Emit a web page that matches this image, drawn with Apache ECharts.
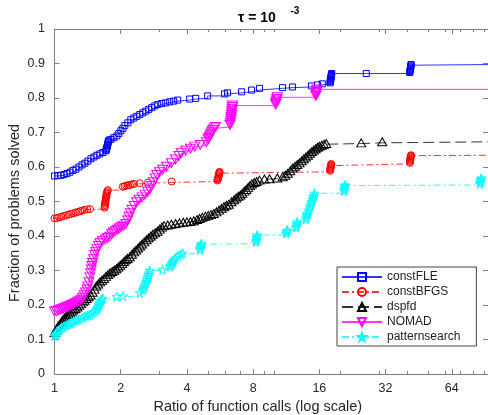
<!DOCTYPE html>
<html>
<head>
<meta charset="utf-8">
<title>Performance profile</title>
<script src="https://cdn.jsdelivr.net/npm/echarts@6/dist/echarts.min.js"></script>
<style>html,body{margin:0;padding:0;background:#fff;}</style>
</head>
<body>
<div id="main" style="width:488px;height:415px;"></div>
<script type="text/javascript">
// names, ticks and the profile points [ratio, fraction solved]
var seriesNames = ['constFLE', 'constBFGS', 'dspfd', 'NOMAD', 'patternsearch'];
var xLabelTicks = [1, 2, 4, 8, 16, 32, 64];
var xMinorTicks = [3, 5, 6, 7, 9, 10, 20, 30, 40, 50, 60, 70, 80, 90];
var xMax = 93.5;

var constFLE = [[1.0,.574],[1.037,.575],[1.07,.576],[1.104,.578],[1.139,.581],[1.176,.585],[1.213,.59],[1.252,.594],
  [1.292,.6],[1.333,.606],[1.375,.611],[1.419,.617],[1.464,.624],[1.511,.629],[1.559,.634],[1.608,.638],[1.66,.642],
  [1.712,.647],[1.72,.65],[1.727,.654],[1.733,.658],[1.74,.662],[1.745,.666],[1.75,.67],[1.758,.674],[1.767,.678],
  [1.804,.68],[1.862,.685],[1.921,.69],[1.961,.697],[2.003,.705],[2.045,.712],[2.088,.72],[2.155,.728],[2.223,.737],
  [2.294,.742],[2.367,.747],[2.442,.752],[2.52,.757],[2.6,.762],[2.683,.767],[2.768,.772],[2.856,.777],[2.947,.781],
  [3.073,.784],[3.204,.786],[3.341,.789],[3.483,.791],[3.632,.794],[4.117,.797],[4.383,.799],[4.97,.806],[5.93,.812],
  [6.12,.815],[7.09,.818],[7.87,.823],[8.55,.828],[10.88,.83],[12.07,.832],[14.72,.835],[15.7,.838],[16.5,.841],
  [17.9,.844],[17.93,.847],[17.96,.85],[18.0,.853],[18.03,.856],[18.06,.859],[18.1,.862],[18.13,.865],[18.16,.868],
  [18.2,.871],[26.15,.871],[41.2,.874],[41.3,.877],[41.4,.88],[41.5,.883],[41.55,.886],[41.6,.889],[41.7,.892],
  [41.75,.895],[41.8,.897],[93.5,.897]];

var constBFGS = [[1.0,.451],[1.025,.452],[1.05,.454],[1.075,.456],[1.1,.458],[1.13,.46],[1.16,.462],[1.19,.464],
  [1.22,.466],[1.25,.468],[1.28,.47],[1.31,.472],[1.34,.474],[1.37,.476],[1.41,.477],[1.45,.478],[1.69,.482],
  [1.693,.486],[1.696,.49],[1.70,.494],[1.703,.498],[1.706,.502],[1.71,.506],[1.714,.51],[1.718,.514],[1.722,.518],
  [1.726,.522],[1.73,.526],[1.738,.53],[1.75,.533],[2.045,.543],[2.08,.544],[2.12,.546],[2.16,.547],[2.2,.548],
  [2.25,.55],[2.3,.551],[2.44,.553],[2.66,.555],[3.41,.558],[5.5,.561],[5.52,.564],[5.54,.567],[5.55,.57],
  [5.57,.573],[5.58,.576],[5.6,.579],[5.61,.582],[5.62,.584],[5.63,.586],[17.9,.589],[17.93,.592],[17.96,.595],
  [18.0,.598],[18.03,.601],[18.06,.604],[18.1,.607],[18.14,.609],[41.3,.612],[41.35,.615],[41.4,.618],[41.45,.621],
  [41.5,.624],[41.55,.627],[41.6,.63],[41.7,.633],[41.8,.634],[93.5,.634]];

var dspfd = [[1.0,.12],[1.01,.125],[1.02,.13],[1.035,.136],[1.05,.142],[1.065,.148],[1.08,.153],[1.095,.158],
  [1.11,.162],[1.125,.165],[1.14,.168],[1.16,.173],[1.18,.177],[1.2,.182],[1.22,.186],[1.245,.19],[1.27,.194],
  [1.295,.199],[1.32,.204],[1.345,.209],[1.37,.214],[1.4,.219],[1.43,.224],[1.46,.229],[1.49,.237],[1.52,.246],
  [1.55,.255],[1.58,.261],[1.61,.267],[1.645,.272],[1.68,.277],[1.715,.283],[1.75,.288],[1.79,.293],[1.83,.297],
  [1.87,.301],[1.91,.305],[1.95,.31],[1.99,.315],[2.03,.32],[2.07,.326],[2.11,.331],[2.15,.335],[2.2,.34],
  [2.25,.347],[2.3,.354],[2.35,.359],[2.4,.365],[2.45,.371],[2.5,.377],[2.56,.383],[2.62,.389],[2.68,.395],
  [2.74,.4],[2.8,.405],[2.87,.409],[2.94,.414],[3.01,.42],[3.08,.426],[3.15,.43],[3.27,.432],[3.4,.434],
  [3.55,.436],[3.7,.438],[3.85,.44],[4.0,.441],[4.15,.442],[4.3,.444],[4.45,.448],[4.57,.451],[4.7,.454],
  [4.85,.457],[5.0,.459],[5.15,.462],[5.3,.465],[5.45,.47],[5.6,.475],[5.75,.48],[5.9,.485],[6.05,.489],
  [6.2,.492],[6.38,.499],[6.55,.505],[6.7,.51],[6.85,.515],[7.0,.519],[7.15,.524],[7.3,.53],[7.45,.535],
  [7.6,.541],[7.75,.546],[7.9,.551],[8.1,.555],[8.3,.558],[8.55,.562],[9.0,.565],[9.5,.566],[10.3,.568],
  [10.9,.572],[11.2,.576],[11.5,.582],[11.8,.589],[12.1,.597],[12.4,.602],[12.7,.607],[13.0,.612],[13.3,.618],
  [13.6,.624],[13.9,.629],[14.2,.634],[14.5,.64],[14.8,.645],[15.1,.649],[15.4,.653],[15.7,.657],[16.0,.66],
  [16.4,.663],[16.8,.666],[17.2,.668],[24.8,.67],[30.9,.673],[93.5,.673]];

var NOMAD = [[1.0,.181],[1.02,.182],[1.04,.184],[1.06,.186],[1.08,.188],[1.1,.19],[1.12,.192],[1.14,.194],
  [1.16,.196],[1.18,.198],[1.2,.2],[1.22,.202],[1.245,.205],[1.27,.208],[1.295,.211],[1.32,.215],[1.345,.221],
  [1.365,.228],[1.385,.236],[1.405,.245],[1.42,.254],[1.435,.266],[1.449,.28],[1.46,.292],[1.47,.303],[1.48,.313],
  [1.49,.322],[1.505,.333],[1.52,.345],[1.54,.354],[1.56,.362],[1.585,.371],[1.61,.379],[1.65,.385],[1.7,.39],
  [1.74,.394],[1.785,.398],[1.82,.405],[1.85,.41],[1.89,.414],[1.93,.418],[1.97,.422],[2.01,.426],[2.06,.43],
  [2.11,.435],[2.15,.445],[2.18,.456],[2.21,.466],[2.25,.476],[2.3,.487],[2.36,.498],[2.42,.505],[2.5,.512],
  [2.58,.52],[2.65,.528],[2.71,.535],[2.76,.545],[2.82,.556],[2.87,.567],[2.92,.577],[3.0,.585],[3.1,.592],
  [3.23,.601],[3.4,.611],[3.55,.622],[3.68,.632],[3.77,.64],[3.95,.647],[4.15,.653],[4.34,.659],[4.6,.664],
  [4.9,.672],[5.0,.68],[5.03,.684],[5.07,.688],[5.11,.692],[5.15,.697],[5.2,.702],[5.25,.707],[5.32,.712],
  [5.4,.716],[6.28,.722],[6.3,.727],[6.32,.733],[6.34,.739],[6.36,.745],[6.38,.751],[6.39,.757],[6.41,.763],
  [6.42,.769],[6.44,.774],[6.45,.778],[10.13,.781],[10.16,.785],[10.2,.789],[10.23,.793],[10.26,.797],[10.3,.802],
  [15.43,.806],[15.47,.81],[15.5,.814],[15.53,.818],[15.56,.822],[15.6,.825],[93.5,.825]];

var patternsearch = [[1.0,.11],[1.01,.113],[1.02,.117],[1.035,.122],[1.05,.127],[1.065,.131],[1.08,.134],
  [1.1,.137],[1.12,.14],[1.14,.142],[1.16,.145],[1.18,.147],[1.2,.15],[1.225,.153],[1.25,.156],[1.275,.158],
  [1.3,.16],[1.33,.163],[1.36,.166],[1.39,.168],[1.42,.17],[1.45,.172],[1.48,.176],[1.51,.18],[1.54,.184],
  [1.56,.188],[1.57,.192],[1.58,.196],[1.59,.2],[1.6,.204],[1.61,.208],[1.625,.212],[1.64,.216],[1.66,.219],
  [1.92,.224],[2.05,.226],[2.44,.235],[2.52,.243],[2.54,.248],[2.56,.253],[2.58,.258],[2.6,.263],[2.615,.268],
  [2.63,.273],[2.645,.278],[2.66,.283],[2.675,.288],[2.69,.293],[2.71,.3],[3.1,.302],[3.34,.311],[3.37,.315],
  [3.4,.319],[3.43,.323],[3.46,.327],[3.5,.331],[3.55,.336],[3.65,.342],[3.75,.347],[3.83,.35],[4.57,.36],
  [4.59,.364],[4.61,.368],[4.63,.372],[4.65,.376],[4.66,.378],[8.25,.383],[8.27,.387],[8.29,.391],[8.31,.395],
  [8.33,.399],[8.35,.403],[11.3,.407],[11.35,.411],[11.4,.415],[11.45,.417],[12.55,.424],[12.58,.428],
  [12.61,.432],[12.64,.436],[12.7,.441],[13.9,.448],[13.95,.453],[14.0,.458],[14.05,.462],[14.1,.466],
  [14.25,.472],[14.4,.478],[14.5,.484],[14.6,.49],[14.7,.495],[14.8,.5],[14.9,.506],[14.95,.51],[15.05,.515],
  [15.1,.518],[15.2,.524],[20.7,.53],[20.75,.534],[20.8,.538],[20.85,.542],[20.9,.546],[20.95,.548],[85.8,.551],
  [86.1,.555],[86.4,.559],[86.7,.563],[87.0,.566],[87.2,.568],[93.5,.568]];

var font = 'Liberation Sans, Arial, Helvetica, sans-serif';
var axisColor = '#808080';
var starPath = 'path://M50,0 L61.2,34.5 L97.6,34.5 L68.2,55.9 L79.4,90.5 L50,69.1 L20.6,90.5 L31.8,55.9 L2.4,34.5 L38.8,34.5 Z';
var downTriangle = 'path://M0,0 L10,0 L5,10 Z';

function profile(name, data, color, symbol, size, dash) {
    // the last point only carries the line to the right edge
    var pts = data.map(function (p, i) {
        return i === data.length - 1 ? { value: p, symbol: 'none' } : p;
    });
    return {
        name: name,
        type: 'line',
        step: 'end',
        data: pts,
        symbol: symbol,
        symbolSize: size,
        lineStyle: { color: color, width: 1, type: dash, opacity: 0.8 },
        itemStyle: { color: 'transparent', borderColor: color, borderWidth: 1 },
        emphasis: { disabled: true }
    };
}

function logAxis(pos, ticks, len, withLine, withLabel) {
    return {
        type: 'log', logBase: 2, min: 1, max: xMax, position: pos,
        axisLine: { show: withLine, onZero: false, lineStyle: { color: axisColor } },
        axisTick: { show: true, inside: true, length: len, customValues: ticks, lineStyle: { color: axisColor } },
        axisLabel: { show: withLabel, customValues: ticks, fontSize: 12.5, color: '#262626', margin: 8, fontFamily: font },
        splitLine: { show: false }
    };
}

var myChart = echarts.init(document.getElementById('main'));

var option = {
    animation: false,
    backgroundColor: '#fff',
    grid: { left: 54.5, right: -1, top: 29, bottom: 41 },
    xAxis: [
        logAxis('bottom', xLabelTicks, 5, true, true),
        logAxis('bottom', xMinorTicks, 3, false, false),
        logAxis('top', xLabelTicks, 5, true, false),
        logAxis('top', xMinorTicks, 3, false, false)
    ],
    yAxis: [
        {
            type: 'value', min: 0, max: 1, interval: 0.1, position: 'left',
            axisLine: { show: true, lineStyle: { color: axisColor } },
            axisTick: { show: true, inside: true, length: 5, lineStyle: { color: axisColor } },
            axisLabel: { fontSize: 12.5, color: '#262626', margin: 9.5, fontFamily: font },
            splitLine: { show: false }
        },
        {
            type: 'value', min: 0, max: 1, interval: 0.1, position: 'right',
            axisLine: { show: true, lineStyle: { color: axisColor } },
            axisTick: { show: true, inside: true, length: 5, lineStyle: { color: axisColor } },
            axisLabel: { show: false },
            splitLine: { show: false }
        }
    ],
    legend: {
        orient: 'vertical', left: 337, top: 267,
        padding: [4, 16, 3, 4], itemGap: 3, itemWidth: 40, itemHeight: 10,
        backgroundColor: '#fff', borderColor: '#444', borderWidth: 1,
        textStyle: { fontSize: 12, color: '#222', fontFamily: font },
        data: seriesNames
    },
    graphic: [
        { type: 'text', x: 238, y: 18, style: { text: 'τ = 10', font: 'bold 14px ' + font, fill: '#000', align: 'left', verticalAlign: 'middle' } },
        { type: 'text', x: 290.5, y: 11.5, style: { text: '-3', font: 'bold 10px ' + font, fill: '#000', align: 'left', verticalAlign: 'middle' } },
        { type: 'text', x: 257.8, y: 407, style: { text: 'Ratio of function calls (log scale)', font: '14.5px ' + font, fill: '#262626', align: 'center', verticalAlign: 'middle' } },
        { type: 'text', x: 15, y: 213, rotation: Math.PI / 2, style: { text: 'Fraction of problems solved', font: '14.5px ' + font, fill: '#262626', align: 'center', verticalAlign: 'middle' } }
    ],
    series: [
        profile(seriesNames[0], constFLE, '#0000ff', 'rect', 6, 'solid'),
        profile(seriesNames[1], constBFGS, '#ff0000', 'circle', 7, [7, 3, 2, 3]),
        profile(seriesNames[2], dspfd, '#000000', 'triangle', [9, 8], [11, 5]),
        profile(seriesNames[3], NOMAD, '#ff00ff', downTriangle, [10, 9], 'solid'),
        profile(seriesNames[4], patternsearch, '#00ffff', starPath, 9, [7, 3, 2, 3])
    ]
};

myChart.setOption(option);
</script>
</body>
</html>
